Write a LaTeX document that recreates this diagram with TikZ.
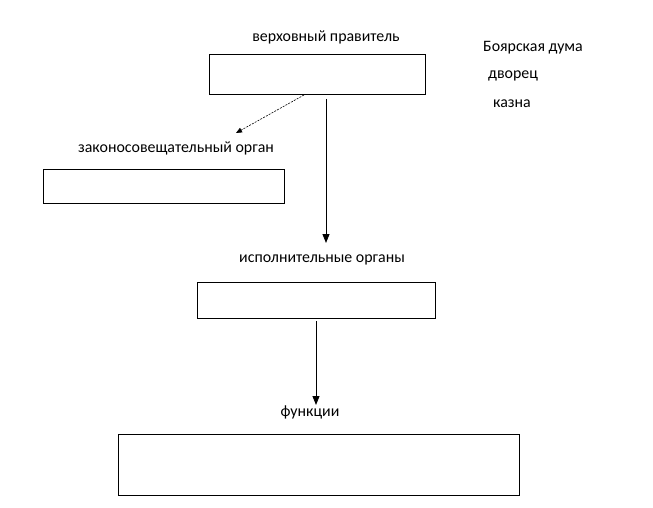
\documentclass[tikz,border=0pt]{standalone}
\usepackage{fontspec}
\setmainfont{Carlito}
\usetikzlibrary{arrows.meta}
\begin{document}
\begin{tikzpicture}[x=1pt,y=-1pt,
  box/.style={draw,line width=0.9pt,inner sep=0pt,anchor=north west},
  lbl/.style={inner sep=0pt,font=\fontsize{15.9}{18}\selectfont},
  arr/.style={line width=0.9pt,-{Triangle[length=9pt,width=7pt]}},
  darr/.style={line width=0.6pt,dashed,dash pattern=on 2pt off 1.2pt,-{Triangle[length=6pt,width=5pt]}}]
\useasboundingbox (0,0) rectangle (653,508);
\node[box,minimum width=216pt,minimum height=40pt] (ruler) at (209,54) {};
\node[lbl] (rulerl) at (326,37) {верховный правитель};
\node[lbl,anchor=west] (duma) at (483,48) {Боярская дума};
\node[lbl,anchor=west] (dvor) at (488,76) {дворец};
\node[lbl,anchor=west] (kazna) at (493,104) {казна};
\node[lbl] (zakl) at (176,148) {законосовещательный орган};
\node[box,minimum width=241pt,minimum height=34pt] (zak) at (43,169) {};
\node[lbl] (ispl) at (322,260) {исполнительные органы};
\node[box,minimum width=238pt,minimum height=36pt] (isp) at (197,282) {};
\node[lbl] (funl) at (310,412) {функции};
\node[box,minimum width=401pt,minimum height=61pt] (fun) at (118,434) {};
\coordinate (d1) at (304,95);
\coordinate (d2) at (236,133);
\draw[darr] (d1) -- (d2);
\coordinate (a1) at (326,99);
\coordinate (a2) at (326,243);
\draw[arr] (a1) -- (a2);
\coordinate (b1) at (316,321);
\coordinate (b2) at (316,405);
\draw[arr] (b1) -- (b2);
\end{tikzpicture}
\end{document}
